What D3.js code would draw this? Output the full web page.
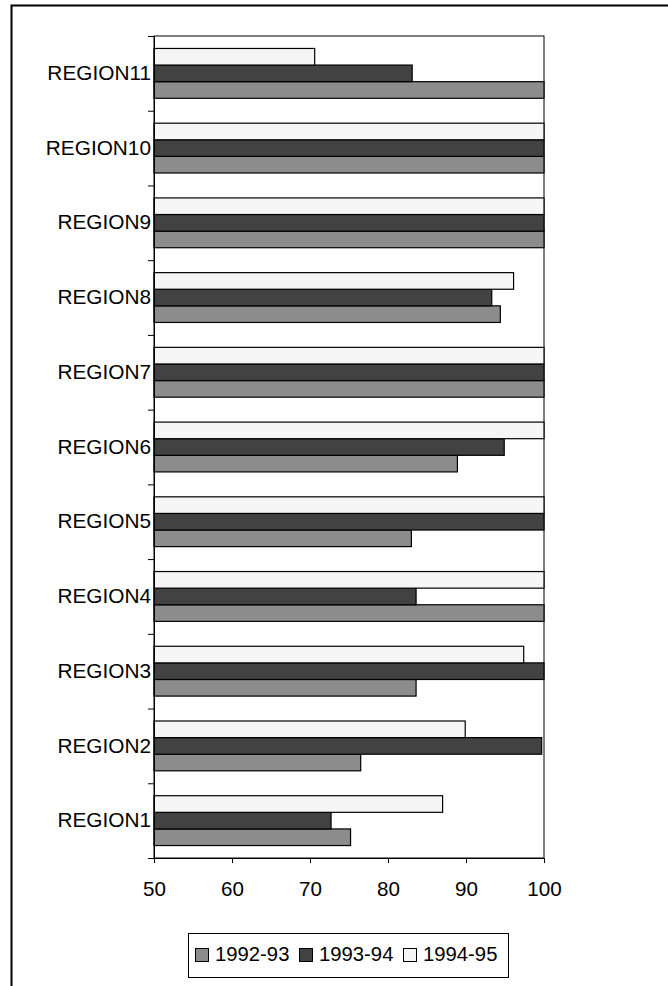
<!DOCTYPE html>
<html>
<head>
<meta charset="utf-8">
<script src="https://cdn.jsdelivr.net/npm/d3@7"></script>
<style>
  html, body { margin: 0; padding: 0; background: #fff; }
  svg { display: block; }
  text { font-family: "Liberation Sans", Arial, sans-serif; fill: #000; }
</style>
</head>
<body>
<svg id="chart" width="668" height="986"></svg>
<script>
// Regions, bottom to top
const categories = ["REGION1", "REGION2", "REGION3", "REGION4", "REGION5", "REGION6",
                    "REGION7", "REGION8", "REGION9", "REGION10", "REGION11"];
const seriesNames = ["1992-93", "1993-94", "1994-95"];
const values1992 = [75.2, 76.5, 83.6, 100, 83.0, 88.9, 100, 94.4, 100, 100, 100];
const values1993 = [72.7, 99.7, 100, 83.6, 100, 94.9, 100, 93.3, 100, 100, 83.1];
const values1994 = [87.0, 89.9, 97.4, 100, 100, 100, 100, 96.1, 100, 100, 70.6];
const xTicks = [50, 60, 70, 80, 90, 100];

const seriesValues = [values1992, values1993, values1994];
const fills = ["#8c8c8c", "#424242", "#f5f5f5"];

const svg = d3.select("#chart");

// outer frame (open to the right and bottom edges of the page)
svg.append("rect")
  .attr("x", 11.5).attr("y", 5.5)
  .attr("width", 720).attr("height", 1040)
  .attr("fill", "none").attr("stroke", "#000").attr("stroke-width", 2);

const plot = { left: 154, right: 544, top: 36, bottom: 858 };

const x = d3.scaleLinear().domain([50, 100]).range([plot.left, plot.right]);
const y = d3.scaleBand().domain(categories.slice().reverse())
  .range([plot.top, plot.bottom]).padding(0);
// within each region: 1994-95 on top, 1992-93 at the bottom
const ySub = d3.scaleBand().domain(seriesNames.slice().reverse())
  .range([0, y.bandwidth()]).paddingInner(0).paddingOuter(0.75);

// plot area border
svg.append("rect")
  .attr("x", plot.left).attr("y", plot.top)
  .attr("width", plot.right - plot.left).attr("height", plot.bottom - plot.top)
  .attr("fill", "none").attr("stroke", "#000").attr("stroke-width", 1);

// bars
const rows = categories.map((c, i) => ({
  region: c,
  items: seriesNames.map((s, k) => ({ series: s, value: seriesValues[k][i], k }))
}));

const groups = svg.append("g").selectAll("g")
  .data(rows).join("g")
  .attr("transform", d => `translate(0,${y(d.region)})`);

groups.selectAll("rect")
  .data(d => d.items).join("rect")
  .attr("x", x(50))
  .attr("y", d => ySub(d.series))
  .attr("width", d => x(d.value) - x(50))
  .attr("height", ySub.bandwidth())
  .attr("fill", d => fills[d.k])
  .attr("stroke", "#000")
  .attr("stroke-width", 1.2);

// x axis
const xAxis = svg.append("g")
  .attr("transform", `translate(0,${plot.bottom})`)
  .call(d3.axisBottom(x).tickValues(xTicks).tickSize(5).tickSizeOuter(0).tickPadding(18)
    .tickFormat(d3.format("d")));
xAxis.select(".domain").attr("stroke", "#000");
xAxis.selectAll(".tick line").attr("stroke", "#000");
xAxis.selectAll("text").attr("font-size", 20.6).attr("font-family", "Liberation Sans, Arial, sans-serif");

// y axis: tick marks on region boundaries
const yEdge = d3.scaleLinear().domain([0, categories.length]).range([plot.bottom, plot.top]);
const yTicks = svg.append("g")
  .attr("transform", `translate(${plot.left},0)`)
  .call(d3.axisLeft(yEdge).tickValues(d3.range(0, categories.length + 1))
    .tickSize(6).tickSizeOuter(0).tickFormat(""));
yTicks.select(".domain").attr("stroke", "#000");
yTicks.selectAll(".tick line").attr("stroke", "#000");

// y axis: region labels
const yLabels = svg.append("g")
  .attr("transform", `translate(${plot.left},0)`)
  .call(d3.axisLeft(y).tickSize(0).tickPadding(3));
yLabels.select(".domain").remove();
yLabels.selectAll("text").attr("font-size", 20.8).attr("font-family", "Liberation Sans, Arial, sans-serif");

// legend
const legend = svg.append("g");
legend.append("rect")
  .attr("x", 188.5).attr("y", 933.5).attr("width", 320).attr("height", 44)
  .attr("fill", "#fff").attr("stroke", "#000").attr("stroke-width", 1);
const legendX = [195, 299, 403];
const items = legend.selectAll("g.item")
  .data(seriesNames).join("g").attr("class", "item")
  .attr("transform", (d, i) => `translate(${legendX[i]},948)`);
items.append("rect")
  .attr("x", 0.5).attr("y", 0.5).attr("width", 13).attr("height", 13)
  .attr("fill", (d, i) => fills[i]).attr("stroke", "#000").attr("stroke-width", 1);
items.append("text")
  .attr("x", 20).attr("y", 13)
  .attr("font-size", 20.3)
  .text(d => d);
</script>
</body>
</html>
